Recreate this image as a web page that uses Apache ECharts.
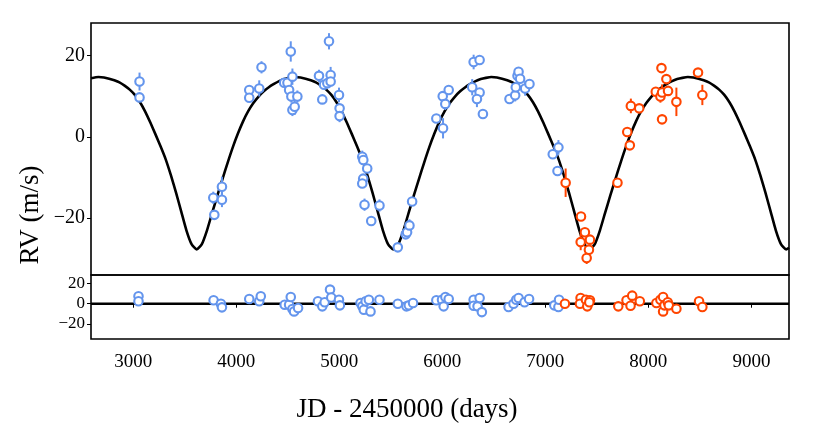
<!DOCTYPE html>
<html>
<head>
<meta charset="utf-8">
<script src="https://cdn.jsdelivr.net/npm/echarts@6/dist/echarts.min.js"></script>
<style>
  html, body { margin: 0; padding: 0; background: #fff; }
  #chart { width: 813px; height: 430px; }
</style>
</head>
<body>
<div id="chart"></div>
<script>
// radial velocities, instrument 1 (blue): [JD-2450000, RV, error]
var rvBlue = [
  [3061, 13.6, 2.2], [3061, 9.7, 1.0], [3777, -15.0, 1.5], [3787, -19.2, 1.0],
  [3861, -12.3, 2.5], [3861, -15.5, 1.8], [4126, 11.5, 1.0], [4126, 9.6, 1.0],
  [4223, 11.9, 2.0], [4245, 17.1, 1.5], [4465, 13.3, 1.0], [4497, 13.3, 1.0],
  [4513, 11.5, 1.0], [4529, 21.0, 2.5], [4545, 14.8, 2.0], [4535, 9.9, 1.5],
  [4593, 9.9, 1.5], [4545, 6.6, 1.5], [4567, 7.4, 2.0], [4803, 15.0, 1.5],
  [4835, 9.2, 1.0], [4852, 12.8, 1.0], [4884, 13.2, 1.0], [4900, 23.5, 2.0],
  [4916, 15.2, 2.0], [4916, 13.6, 1.0], [4997, 10.3, 1.8], [5003, 7.0, 1.0],
  [5003, 5.1, 1.5], [5223, -4.9, 1.5], [5233, -5.7, 1.0], [5271, -7.8, 1.0],
  [5232, -10.3, 1.0], [5223, -11.5, 1.0], [5245, -16.7, 1.5], [5310, -20.7, 1.0],
  [5390, -16.9, 1.5], [5568, -27.2, 1.0], [5645, -24.0, 1.0], [5658, -23.5, 1.0],
  [5681, -21.8, 1.5], [5707, -15.9, 1.0], [5942, 4.5, 1.0], [6007, 2.1, 2.5],
  [6004, 10.0, 1.0], [6029, 8.1, 1.5], [6062, 11.5, 1.0], [6304, 18.4, 1.8],
  [6362, 18.9, 1.0], [6290, 12.2, 2.0], [6362, 10.9, 1.0], [6336, 9.3, 2.0],
  [6394, 5.6, 1.0], [6652, 9.3, 1.0], [6707, 10.2, 1.5], [6713, 12.2, 1.0],
  [6730, 15.0, 1.0], [6740, 16.0, 1.0], [6755, 14.3, 1.0], [6804, 11.9, 1.8],
  [6846, 13.0, 1.0], [7072, -4.3, 1.0], [7127, -2.6, 1.8], [7118, -8.4, 1.0]
];

// radial velocities, instrument 2 (orange)
var rvOrange = [
  [7197, -11.3, 3.5], [7346, -19.6, 1.0], [7384, -23.5, 1.0], [7343, -25.9, 2.0],
  [7433, -25.3, 1.0], [7423, -27.8, 1.0], [7401, -29.8, 1.5], [7700, -11.3, 1.0],
  [7795, 1.2, 1.0], [7820, -2.1, 1.0], [7830, 7.6, 1.8], [7911, 7.0, 1.0],
  [8072, 11.1, 1.0], [8117, 9.9, 1.5], [8127, 16.9, 1.0], [8133, 10.9, 2.0],
  [8133, 4.3, 1.0], [8175, 14.2, 1.0], [8191, 11.3, 1.0], [8272, 8.6, 3.5],
  [8482, 15.8, 1.0], [8524, 10.3, 2.5]
];

// residuals: [JD-2450000, O-C]
var resBlue = [
  [3051, 7.4], [3051, 2.4], [3780, 3.4], [3851, 0], [3861, -3.6], [4126, 4.7],
  [4223, 2.4], [4238, 7.4], [4470, -1], [4513, -1], [4529, 6.7], [4545, -5.3],
  [4561, -7.6], [4600, -4.3], [4793, 2.4], [4835, -2.6], [4858, 1.4], [4910, 14.0],
  [4922, 6.2], [4997, 4], [5006, -1.6], [5206, 0.7], [5223, -2.6], [5238, -6],
  [5256, 2.4], [5287, 4], [5303, -7.6], [5390, 4], [5568, 0], [5652, -2.6],
  [5675, -1.6], [5716, 0.7], [5942, 3.4], [5997, 4], [6013, -2.6], [6030, 6.7],
  [6062, 4.7], [6304, 4], [6304, -2], [6342, -2.6], [6362, 5.7], [6384, -8.3],
  [6643, -3.3], [6691, 0], [6717, 4], [6740, 5.7], [6798, 1.4], [6842, 4.7],
  [7087, -1.6], [7127, -3.3], [7133, 4]
];
var resOrange = [
  [7190, 0], [7342, 5.7], [7336, 0], [7394, 4], [7407, -2.6], [7433, 3.4],
  [7427, 1.4], [7708, -2.6], [7788, 3.4], [7827, -2], [7843, 8], [7917, 2.4],
  [8078, 0.7], [8117, 4], [8143, 6.7], [8143, -7.6], [8156, -1.6], [8188, 1.4],
  [8198, -1.6], [8272, -5], [8492, 2.4], [8524, -3.3]
];

// best-fit model curve
var model = [
  [2590, 14.4], [2663, 14.7], [2716, 14.6], [2766, 14.3], [2816, 13.9], [2866, 13.4],
  [2916, 12.6], [2966, 11.6], [3016, 10.3], [3066, 8.5], [3116, 6.2], [3166, 3.5],
  [3216, 0.6], [3266, -2.4], [3316, -5.6], [3366, -9.5], [3416, -13.8], [3466, -18.4],
  [3516, -23.0], [3566, -26.4], [3616, -27.7], [3666, -26.4], [3716, -23.0], [3766, -18.7],
  [3816, -14.5], [3866, -10.4], [3916, -6.4], [3966, -2.6], [4016, 0.8], [4066, 3.8],
  [4116, 6.3], [4166, 8.3], [4216, 9.9], [4266, 11.2], [4316, 12.2], [4366, 13.0],
  [4416, 13.7], [4466, 14.2], [4516, 14.5], [4569, 14.7],
  [4623, 14.6], [4673, 14.3], [4723, 13.9], [4773, 13.4], [4823, 12.6], [4873, 11.6],
  [4923, 10.3], [4973, 8.5], [5023, 6.2], [5073, 3.5], [5123, 0.6], [5173, -2.4],
  [5223, -5.6], [5273, -9.5], [5323, -13.8], [5373, -18.4], [5423, -23.0], [5473, -26.4],
  [5523, -27.7], [5573, -26.4], [5623, -23.0], [5673, -18.7], [5723, -14.5], [5773, -10.4],
  [5823, -6.4], [5873, -2.6], [5923, 0.8], [5973, 3.8], [6023, 6.3], [6073, 8.3],
  [6123, 9.9], [6173, 11.2], [6223, 12.2], [6273, 13.0], [6323, 13.7], [6373, 14.2],
  [6423, 14.5], [6476, 14.7],
  [6530, 14.6], [6580, 14.3], [6630, 13.9], [6680, 13.4], [6730, 12.6], [6780, 11.6],
  [6830, 10.3], [6880, 8.5], [6930, 6.2], [6980, 3.5], [7030, 0.6], [7080, -2.4],
  [7130, -5.6], [7180, -9.5], [7230, -13.8], [7280, -18.4], [7330, -23.0], [7380, -26.4],
  [7430, -27.7], [7480, -26.4], [7530, -23.0], [7580, -18.7], [7630, -14.5], [7680, -10.4],
  [7730, -6.4], [7780, -2.6], [7830, 0.8], [7880, 3.8], [7930, 6.3], [7980, 8.3],
  [8030, 9.9], [8080, 11.2], [8130, 12.2], [8180, 13.0], [8230, 13.7], [8280, 14.2],
  [8330, 14.5], [8383, 14.7],
  [8437, 14.6], [8487, 14.3], [8537, 13.9], [8587, 13.4], [8637, 12.6], [8687, 11.6],
  [8737, 10.3], [8787, 8.5], [8837, 6.2], [8887, 3.5], [8937, 0.6], [8987, -2.4],
  [9037, -5.6], [9087, -9.5], [9137, -13.8], [9187, -18.4], [9237, -23.0], [9287, -26.4],
  [9337, -27.7], [9365, -27.3]
];

var xTicks = [3000, 4000, 5000, 6000, 7000, 8000, 9000];
var rvTicks = [-20, 0, 20];
var resTicks = [-20, 0, 20];

var BLUE = '#6495ed';
var ORANGE = '#ff4500';
var FONT = 'Liberation Serif';

function minus(v) { return String(v).replace('-', '\u2212'); }

function errBars(color) {
  return function (params, api) {
    var lo = api.coord([api.value(0), api.value(1) - api.value(2)]);
    var hi = api.coord([api.value(0), api.value(1) + api.value(2)]);
    return {
      type: 'line',
      shape: { x1: lo[0], y1: lo[1], x2: hi[0], y2: hi[1] },
      style: { stroke: color, lineWidth: 2 }
    };
  };
}

function dots(data, color, xi) {
  return {
    type: 'scatter', xAxisIndex: xi, yAxisIndex: xi,
    data: data.map(function (d) { return [d[0], d[1]]; }),
    symbol: 'circle', symbolSize: 8.5, z: 4,
    itemStyle: { color: '#fff', borderColor: color, borderWidth: 2.1, opacity: 1 }
  };
}

function bars(data, color) {
  return {
    type: 'custom', xAxisIndex: 0, yAxisIndex: 0,
    data: data, renderItem: errBars(color), z: 3,
    encode: { x: 0, y: 1 }
  };
}

var tickStyle = { show: true, inside: false, length: 4, lineStyle: { color: '#000', width: 1 } };

var chart = echarts.init(document.getElementById('chart'));
chart.setOption({
  animation: false,
  backgroundColor: '#fff',
  grid: [
    { left: 91, top: 23, width: 698, height: 252, show: true, borderColor: '#000', borderWidth: 1.6, backgroundColor: 'transparent' },
    { left: 91, top: 275, width: 698, height: 64, show: true, borderColor: '#000', borderWidth: 1.6, backgroundColor: 'transparent' }
  ],
  xAxis: [
    {
      type: 'value', gridIndex: 0, min: 2590, max: 9365,
      axisLine: { show: false }, axisTick: { show: false },
      axisLabel: { show: false }, splitLine: { show: false }
    },
    {
      type: 'value', gridIndex: 1, min: 2590, max: 9365,
      axisLine: { show: false },
      axisTick: Object.assign({ customValues: xTicks }, tickStyle),
      axisLabel: { customValues: xTicks, formatter: function (v) { return String(v); }, color: '#000', fontFamily: FONT, fontSize: 19, margin: 14 },
      splitLine: { show: false }
    }
  ],
  yAxis: [
    {
      type: 'value', gridIndex: 0, min: -34, max: 28,
      axisLine: { show: false },
      axisTick: Object.assign({ customValues: rvTicks }, tickStyle),
      axisLabel: { customValues: rvTicks, formatter: minus, color: '#000', fontFamily: FONT, fontSize: 20, margin: 6 },
      splitLine: { show: false }
    },
    {
      type: 'value', gridIndex: 1, min: -35, max: 28.5,
      axisLine: { show: false },
      axisTick: Object.assign({ customValues: resTicks }, tickStyle),
      axisLabel: { customValues: resTicks, formatter: minus, color: '#000', fontFamily: FONT, fontSize: 17, margin: 6 },
      splitLine: { show: false }
    }
  ],
  // figure-level axis titles, centred on the whole figure
  graphic: [
    {
      type: 'text', x: 31, y: 215, rotation: Math.PI / 2,
      style: { text: 'RV (m/s)', fill: '#000', font: '27px "Liberation Serif"', textAlign: 'center', textVerticalAlign: 'middle' }
    },
    {
      type: 'text', x: 407, y: 410,
      style: { text: 'JD - 2450000 (days)', fill: '#000', font: '27px "Liberation Serif"', textAlign: 'center', textVerticalAlign: 'middle' }
    }
  ],
  series: [
    {
      type: 'line', xAxisIndex: 0, yAxisIndex: 0, data: model,
      showSymbol: false, smooth: 0.2, z: 2,
      lineStyle: { color: '#000', width: 2.6 }
    },
    bars(rvBlue, BLUE),
    bars(rvOrange, ORANGE),
    dots(rvBlue, BLUE, 0),
    dots(rvOrange, ORANGE, 0),
    {
      type: 'line', xAxisIndex: 1, yAxisIndex: 1, data: [[2590, 0], [9365, 0]],
      showSymbol: false, z: 2, lineStyle: { color: '#000', width: 2.6 }
    },
    dots(resBlue, BLUE, 1),
    dots(resOrange, ORANGE, 1)
  ]
});
</script>
</body>
</html>
